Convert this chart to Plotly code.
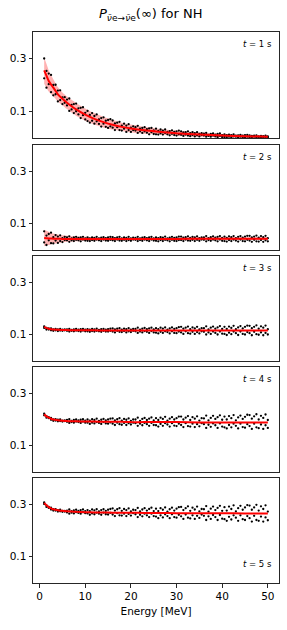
import plotly.graph_objects as go

# ---------------- data ----------------
energy_dots = [
    1.0, 1.5, 2.0, 2.5, 3.0, 3.5, 4.0, 4.5, 5.0, 5.5,
    6.0, 6.5, 7.0, 7.5, 8.0, 8.5, 9.0, 9.5, 10.0, 10.5,
    11.0, 11.5, 12.0, 12.5, 13.0, 13.5, 14.0, 14.5, 15.0, 15.5,
    16.0, 16.5, 17.0, 17.5, 18.0, 18.5, 19.0, 19.5, 20.0, 20.5,
    21.0, 21.5, 22.0, 22.5, 23.0, 23.5, 24.0, 24.5, 25.0, 25.5,
    26.0, 26.5, 27.0, 27.5, 28.0, 28.5, 29.0, 29.5, 30.0, 30.5,
    31.0, 31.5, 32.0, 32.5, 33.0, 33.5, 34.0, 34.5, 35.0, 35.5,
    36.0, 36.5, 37.0, 37.5, 38.0, 38.5, 39.0, 39.5, 40.0, 40.5,
    41.0, 41.5, 42.0, 42.5, 43.0, 43.5, 44.0, 44.5, 45.0, 45.5,
    46.0, 46.5, 47.0, 47.5, 48.0, 48.5, 49.0, 49.5, 50.0]

energy_curve = [1, 1.5, 2, 2.5, 3, 4, 5, 6, 7, 8, 10, 12, 14, 16, 18, 20,
                23, 26, 30, 35, 40, 45, 50]

time_labels = ["1", "2", "3", "4", "5"]

# t = 1 s
t1_dots_a = [
    .300, .253, .243, .238, .200, .201, .179, .180, .153, .154,
    .145, .149, .125, .128, .130, .112, .114, .116, .095, .102,
    .087, .094, .083, .089, .070, .075, .078, .065, .068, .071,
    .066, .055, .058, .061, .047, .054, .047, .052, .039, .044,
    .041, .046, .035, .038, .041, .033, .036, .038, .029, .035,
    .027, .032, .028, .032, .023, .026, .029, .023, .025, .028,
    .025, .021, .022, .025, .018, .022, .018, .022, .015, .018,
    .016, .019, .012, .015, .017, .013, .015, .017, .011, .014,
    .011, .013, .011, .014, .009, .010, .012, .009, .011, .012,
    .010, .008, .009, .010, .006, .008, .007, .009, .006]
t1_dots_b = [
    .225, .190, .203, .173, .161, .165, .138, .143, .128, .133,
    .123, .102, .108, .094, .101, .089, .075, .086, .070, .064,
    .058, .065, .054, .063, .053, .043, .054, .042, .038, .044,
    .039, .030, .041, .030, .028, .035, .023, .030, .023, .030,
    .028, .019, .025, .019, .025, .020, .014, .022, .015, .014,
    .013, .018, .013, .019, .014, .010, .016, .011, .009, .014,
    .012, .008, .013, .009, .007, .011, .006, .010, .006, .011,
    .009, .005, .008, .005, .009, .006, .004, .008, .004, .004,
    .003, .005, .003, .006, .005, .002, .005, .003, .003, .005,
    .003, .001, .005, .002, .001, .003, .001, .003, .002]
t1_curve = [.255, .235, .215, .202, .190, .165, .148, .133, .120, .108, .088, .072,
            .060, .050, .042, .036, .029, .024, .018, .013, .009, .007, .005]
t1_band_hi = [.305, .280, .255, .238, .222, .192, .172, .157, .144, .132, .111, .093,
              .080, .068, .058, .051, .042, .035, .028, .021, .015, .012, .009]
t1_band_lo = [.205, .190, .175, .166, .158, .138, .124, .109, .096, .084, .065, .051,
              .040, .032, .026, .021, .016, .013, .008, .005, .003, .002, .001]

# t = 2 s
t2_dots_a = [
    .071, .055, .061, .066, .049, .057, .051, .056, .045, .050,
    .048, .052, .044, .048, .050, .046, .048, .050, .044, .048,
    .044, .048, .046, .050, .044, .047, .049, .045, .048, .050,
    .049, .045, .048, .050, .044, .048, .046, .050, .044, .047,
    .046, .050, .044, .047, .049, .045, .048, .050, .044, .048,
    .045, .049, .047, .051, .044, .047, .050, .046, .048, .051,
    .051, .047, .049, .052, .046, .050, .048, .052, .045, .048,
    .048, .053, .045, .049, .052, .047, .050, .053, .046, .051,
    .046, .052, .049, .053, .045, .050, .053, .047, .051, .054,
    .054, .048, .051, .055, .047, .053, .049, .054, .045]
t2_dots_b = [
    .029, .019, .037, .026, .025, .036, .027, .034, .030, .038,
    .037, .031, .037, .034, .039, .037, .033, .040, .036, .035,
    .034, .038, .035, .040, .037, .034, .040, .036, .035, .039,
    .037, .034, .040, .036, .035, .039, .034, .038, .035, .040,
    .039, .034, .038, .035, .040, .037, .034, .040, .036, .035,
    .033, .038, .034, .039, .037, .033, .039, .035, .034, .038,
    .038, .034, .040, .036, .035, .039, .034, .039, .035, .040,
    .039, .033, .038, .035, .040, .037, .033, .040, .035, .034,
    .032, .038, .034, .040, .036, .032, .040, .034, .033, .039,
    .036, .031, .039, .033, .032, .038, .031, .037, .033]
t2_curve = [.046, .045, .044, .044, .043, .043, .042, .042, .042, .042, .042, .042,
            .042, .042, .042, .042, .042, .042, .042, .043, .043, .043, .043]
t2_band_hi = [.077, .073, .069, .066, .063, .059, .056, .054, .052, .051, .050, .049,
              .048, .048, .047, .047, .047, .047, .047, .048, .048, .048, .048]
t2_band_lo = [.015, .017, .019, .022, .024, .027, .029, .031, .032, .033, .034, .035,
              .036, .036, .037, .037, .037, .037, .037, .038, .038, .038, .038]

# t = 3 s
t3_dots_a = [
    .132, .126, .124, .124, .120, .122, .120, .122, .119, .120,
    .120, .122, .118, .120, .122, .119, .121, .122, .119, .121,
    .119, .122, .120, .123, .118, .121, .122, .119, .121, .123,
    .124, .120, .123, .125, .119, .123, .121, .125, .119, .122,
    .122, .127, .119, .123, .126, .121, .124, .127, .120, .125,
    .121, .127, .123, .128, .119, .124, .128, .122, .125, .129,
    .130, .123, .127, .131, .121, .128, .124, .130, .120, .125,
    .125, .132, .120, .127, .131, .123, .128, .133, .122, .130,
    .122, .131, .126, .134, .121, .128, .133, .124, .130, .135,
    .134, .125, .130, .136, .123, .132, .127, .135, .121]
t3_dots_b = [
    .126, .120, .120, .117, .115, .117, .114, .116, .115, .117,
    .115, .112, .115, .113, .116, .114, .112, .116, .113, .113,
    .111, .114, .112, .115, .113, .111, .115, .112, .112, .115,
    .112, .109, .115, .111, .110, .114, .109, .113, .110, .115,
    .113, .107, .112, .109, .114, .111, .107, .114, .109, .108,
    .105, .111, .107, .113, .110, .105, .113, .107, .106, .112,
    .109, .103, .113, .106, .104, .111, .103, .110, .105, .113,
    .111, .101, .109, .103, .112, .107, .101, .112, .104, .103,
    .099, .108, .102, .112, .106, .099, .112, .103, .101, .110,
    .106, .098, .111, .102, .100, .109, .098, .107, .101]
t3_curve = [.130, .126, .123, .121, .120, .119, .118, .118, .117, .117, .117, .117,
            .116, .116, .116, .116, .116, .116, .116, .116, .116, .116, .116]

# t = 4 s
t4_dots_a = [
    .222, .213, .209, .206, .200, .201, .199, .200, .196, .197,
    .198, .201, .195, .198, .200, .197, .199, .201, .196, .200,
    .196, .201, .198, .203, .195, .199, .202, .197, .200, .203,
    .204, .197, .201, .205, .196, .202, .199, .204, .195, .200,
    .200, .207, .195, .202, .206, .198, .203, .208, .197, .205,
    .198, .207, .202, .210, .196, .203, .209, .200, .205, .211,
    .211, .200, .207, .213, .198, .209, .203, .212, .196, .205,
    .204, .215, .197, .206, .214, .202, .209, .216, .199, .211,
    .200, .213, .205, .217, .197, .208, .215, .202, .210, .218,
    .217, .203, .212, .220, .200, .214, .206, .219, .198]
t4_dots_b = [
    .216, .207, .205, .199, .195, .196, .193, .194, .192, .194,
    .191, .187, .190, .188, .192, .190, .187, .192, .188, .188,
    .183, .188, .185, .190, .187, .183, .190, .185, .184, .189,
    .184, .179, .188, .182, .180, .187, .179, .186, .181, .188,
    .186, .176, .184, .178, .187, .182, .176, .187, .179, .178,
    .173, .183, .176, .186, .181, .173, .186, .177, .175, .184,
    .179, .171, .186, .175, .173, .184, .171, .182, .174, .186,
    .182, .168, .180, .172, .185, .178, .168, .185, .173, .170,
    .166, .179, .170, .184, .176, .166, .184, .171, .169, .182,
    .175, .164, .184, .170, .167, .181, .164, .178, .168]
t4_curve = [.220, .212, .207, .203, .200, .197, .195, .194, .193, .193, .192, .192,
            .191, .191, .191, .190, .190, .190, .190, .189, .189, .189, .189]

# t = 5 s
t5_dots_a = [
    .307, .296, .290, .287, .281, .281, .278, .279, .275, .275,
    .276, .280, .274, .277, .279, .275, .278, .280, .274, .278,
    .274, .280, .277, .281, .273, .278, .281, .275, .279, .282,
    .284, .276, .281, .285, .275, .282, .278, .284, .273, .279,
    .278, .286, .273, .280, .285, .276, .282, .287, .274, .283,
    .274, .285, .279, .288, .272, .281, .287, .276, .283, .289,
    .290, .278, .285, .292, .275, .287, .280, .291, .273, .282,
    .281, .293, .272, .283, .291, .278, .286, .294, .275, .289,
    .276, .291, .282, .296, .273, .285, .294, .279, .288, .297,
    .295, .279, .288, .298, .276, .292, .282, .296, .272]
t5_dots_b = [
    .301, .290, .286, .280, .276, .276, .272, .273, .271, .272,
    .269, .264, .268, .265, .270, .267, .264, .270, .266, .265,
    .260, .265, .262, .268, .264, .260, .268, .262, .261, .267,
    .261, .255, .266, .258, .257, .264, .255, .263, .257, .266,
    .262, .251, .260, .254, .264, .258, .251, .264, .255, .253,
    .247, .258, .250, .262, .255, .247, .262, .251, .249, .260,
    .254, .244, .261, .249, .246, .258, .244, .256, .248, .261,
    .256, .240, .254, .244, .259, .251, .240, .259, .245, .243,
    .237, .252, .242, .258, .249, .237, .258, .243, .240, .255,
    .247, .234, .256, .240, .237, .253, .234, .250, .239]
t5_curve = [.305, .296, .289, .284, .281, .277, .275, .273, .272, .271, .270, .269,
            .269, .268, .268, .268, .267, .267, .266, .266, .266, .265, .265]

y_tick_vals = [0.1, 0.3]
y_tick_text = ["0.1", "0.3"]
x_tick_vals = [0, 10, 20, 30, 40, 50]
x_tick_text = ["0", "10", "20", "30", "40", "50"]

panels = [
    (t1_dots_a, t1_dots_b, t1_curve, t1_band_hi, t1_band_lo),
    (t2_dots_a, t2_dots_b, t2_curve, t2_band_hi, t2_band_lo),
    (t3_dots_a, t3_dots_b, t3_curve, None, None),
    (t4_dots_a, t4_dots_b, t4_curve, None, None),
    (t5_dots_a, t5_dots_b, t5_curve, None, None),
]

# ---------------- layout geometry (pixels) ----------------
W, H = 287, 630
X_LEFT, X_RIGHT = 33, 279
PANEL_PX = [(32, 138), (145, 250), (256, 361), (367, 472), (478, 583)]
FONT = "DejaVu Sans"
AX_COLOR = "#262626"
TICK_SIZE = 10.5

fig = go.Figure()
layout = dict(
    width=W, height=H,
    margin=dict(l=0, r=0, t=0, b=0),
    paper_bgcolor="white", plot_bgcolor="white",
    showlegend=False,
    font=dict(family=FONT, size=10, color="black"),
)
annotations = []

for i, (da, db, curve, bhi, blo) in enumerate(panels):
    k = i + 1
    xa = "x" if k == 1 else f"x{k}"
    ya = "y" if k == 1 else f"y{k}"
    if bhi is not None:
        fig.add_trace(go.Scatter(x=energy_curve, y=blo, xaxis=xa, yaxis=ya, mode="lines",
                                 line=dict(width=0, color="rgba(255,0,0,0)", shape="spline", smoothing=0.6),
                                 hoverinfo="skip"))
        fig.add_trace(go.Scatter(x=energy_curve, y=bhi, xaxis=xa, yaxis=ya, mode="lines",
                                 line=dict(width=0, color="rgba(255,0,0,0)", shape="spline", smoothing=0.6),
                                 fill="tonexty", fillcolor="rgba(255,0,0,0.3)", hoverinfo="skip"))
    for dots in (da, db):
        n = min(len(energy_dots), len(dots))
        fig.add_trace(go.Scatter(x=energy_dots[:n], y=dots[:n], xaxis=xa, yaxis=ya, mode="markers",
                                 marker=dict(size=2.3, color="black", symbol="circle", line=dict(width=0))))
    fig.add_trace(go.Scatter(x=energy_curve, y=curve, xaxis=xa, yaxis=ya, mode="lines",
                             line=dict(color="red", width=2, shape="spline", smoothing=0.6)))

    top, bot = PANEL_PX[i]
    last = (k == len(panels))
    xaxis = dict(
        domain=[X_LEFT / W, X_RIGHT / W], anchor=ya,
        range=[-1.45, 52.45], showgrid=False, zeroline=False,
        showline=True, mirror=True, linecolor=AX_COLOR, linewidth=1,
        ticks="outside" if last else "", ticklen=3.5, tickwidth=0.8, tickcolor=AX_COLOR,
        tickvals=x_tick_vals, ticktext=x_tick_text, showticklabels=last,
        tickfont=dict(family=FONT, size=TICK_SIZE, color="black"),
    )
    if last:
        xaxis["title"] = dict(text="Energy [MeV]", font=dict(family=FONT, size=TICK_SIZE, color="black"), standoff=6)
    layout["xaxis" if k == 1 else f"xaxis{k}"] = xaxis
    layout["yaxis" if k == 1 else f"yaxis{k}"] = dict(
        domain=[1 - bot / H, 1 - top / H], anchor=xa,
        range=[0, 0.4], showgrid=False, zeroline=False,
        showline=True, mirror=True, linecolor=AX_COLOR, linewidth=1,
        ticks="outside", ticklen=3.5, tickwidth=0.8, tickcolor=AX_COLOR,
        tickvals=y_tick_vals, ticktext=y_tick_text,
        tickfont=dict(family=FONT, size=TICK_SIZE, color="black"),
    )
    label_y = (top + 12) if not last else (bot - 19)
    annotations.append(dict(
        text=f"<i>t</i> = {time_labels[i]} s", xref="paper", yref="paper",
        x=274 / W, y=1 - label_y / H, xanchor="right", yanchor="middle",
        showarrow=False, font=dict(family=FONT, size=8.5, color="black")))

annotations.append(dict(
    text="<i>P</i><sub><i>ν̄</i>e→<i>ν̄</i>e</sub>(∞) for NH", xref="paper", yref="paper",
    x=150 / W, y=1 - 14 / H, xanchor="center", yanchor="middle",
    showarrow=False, font=dict(family=FONT, size=13, color="black")))

layout["annotations"] = annotations
fig.update_layout(**layout)
fig.write_html("out.html", config={"displayModeBar": False})

# remove the default page margin so the figure sits at the window's top-left corner
with open("out.html", "r", encoding="utf-8") as fh:
    html = fh.read()
html = html.replace("<head>", "<head><style>html,body{margin:0;padding:0;}</style>", 1)
with open("out.html", "w", encoding="utf-8") as fh:
    fh.write(html)
